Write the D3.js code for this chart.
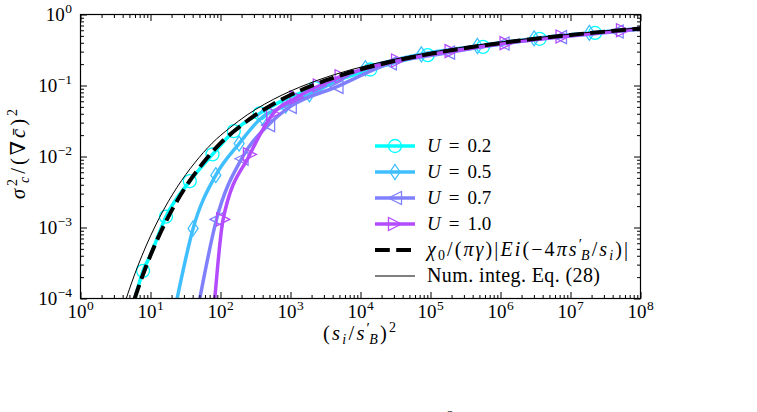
<!DOCTYPE html>
<html>
<head>
<meta charset="utf-8">
<script src="https://cdn.jsdelivr.net/npm/d3@7"></script>
<style>
  body { margin: 0; background: #fff; }
  svg { display: block; font-family: "Liberation Serif", "DejaVu Serif", serif; }
</style>
</head>
<body>
<svg id="chart" width="757" height="412"></svg>
<script>
// axis limits and tick labels
const xMajor = [1e0, 1e1, 1e2, 1e3, 1e4, 1e5, 1e6, 1e7, 1e8];
const xExp = ['0', '1', '2', '3', '4', '5', '6', '7', '8'];
const yMajor = [1e-4, 1e-3, 1e-2, 1e-1, 1e0];
const yExp = ['\u22124', '\u22123', '\u22122', '\u22121', '0'];

// dashed curve chi0/(pi gamma)|Ei(...)|
const eiX = [5.9, 6.3, 7.94, 10, 17.8, 31.6, 56.2, 100, 178, 316, 562, 1000, 3160, 1e4, 3.16e4, 1e5, 3.16e5, 1e6, 3.16e6, 1e7, 3.16e7, 1e8];
const eiY = [9.8e-5, 1.19e-4, 2.27e-4, 4.06e-4, 1.39e-3, 3.70e-3, 8.08e-3, 0.0154, 0.0252, 0.0385, 0.0546, 0.0735, 0.1178, 0.1684, 0.2228, 0.2795, 0.3376, 0.3964, 0.4558, 0.5153, 0.575, 0.635];

// thin curve: numerical integration
const numX = [4.48, 4.78, 6.02, 7.59, 13.5, 24.0, 42.6, 75.9, 135, 240, 426, 759, 2400, 7590, 2.4e4, 7.59e4, 2.4e5, 7.59e5, 2.4e6, 7.59e6, 2.4e7, 7.59e7, 1e8];
const numY = [9.8e-5, 1.19e-4, 2.27e-4, 4.06e-4, 1.39e-3, 3.70e-3, 8.08e-3, 0.0154, 0.0252, 0.0385, 0.0546, 0.0735, 0.1178, 0.1684, 0.2228, 0.2795, 0.3376, 0.3964, 0.4558, 0.5153, 0.575, 0.635, 0.642];

// U = 0.2
const u02X = [6.0, 7.83, 10, 16.6, 36.4, 76.9, 155, 364, 891, 2240, 13800, 91200, 5.62e5, 3.63e6, 2.24e7, 1e8];
const u02Y = [1.0e-4, 2.45e-4, 4.1e-4, 1.42e-3, 4.5e-3, 0.0107, 0.0228, 0.0405, 0.066, 0.092, 0.168, 0.268, 0.35, 0.455, 0.55, 0.625];
const u02M = [1, 3, 4, 5, 6, 7, 9, 10, 11, 12, 13, 14];

// U = 0.5
const u05X = [24.0, 40.6, 85.7, 184.5, 398, 851, 1862, 11750, 74100, 4.68e5, 3.02e6, 1.86e7, 1e8];
const u05Y = [1e-4, 9.7e-4, 5.46e-3, 0.0152, 0.036, 0.052, 0.075, 0.175, 0.275, 0.36, 0.46, 0.55, 0.64];
const u05M = [1, 2, 3, 4, 5, 6, 7, 8, 9, 10, 11];

// U = 0.7
const u07X = [50.6, 87.7, 200, 479, 977, 4540, 26300, 1.78e5, 1.07e6, 7.08e6, 4.57e7, 1e8];
const u07Y = [1e-4, 1.30e-3, 9.3e-3, 0.0276, 0.050, 0.0955, 0.205, 0.29, 0.39, 0.48, 0.575, 0.62];
const u07M = [1, 2, 3, 4, 5, 6, 7, 8, 9, 10];

// U = 1.0
const u10X = [83, 109, 263, 564, 1220, 2620, 5370, 34400, 2.0e5, 1.22e6, 7.69e6, 5.62e7, 1e8];
const u10Y = [1e-4, 1.30e-3, 0.0107, 0.0403, 0.068, 0.10, 0.135, 0.225, 0.305, 0.395, 0.49, 0.60, 0.64];
const u10M = [1, 2, 3, 4, 5, 6, 7, 8, 9, 10, 11];

const seriesLabels = ['0.2', '0.5', '0.7', '1.0'];
const seriesColors = ['#00ffff', '#40bfff', '#8080ff', '#b44bff'];

let svg = d3.select('#chart');
let padL = 80.5, padR = 640.5, padT = 14.5, padB = 298.5;

let x = d3.scaleLog().domain([1, 1e8]).range([padL, padR]);
let y = d3.scaleLog().domain([1e-4, 1]).range([padB, padT]);

// minor ticks
let xMinor = [], yMinor = [];
for (let e = 0; e < 8; e++) for (let m = 2; m < 10; m++) xMinor.push(m * Math.pow(10, e));
for (let e = -4; e < 0; e++) for (let m = 2; m < 10; m++) yMinor.push(m * Math.pow(10, e));

svg.append('clipPath').attr('id', 'plotClip')
    .append('rect').attr('x', padL).attr('y', padT)
    .attr('width', padR - padL).attr('height', padB - padT);

let plot = svg.append('g').attr('clip-path', 'url(#plotClip)');

let line = d3.line()
    .x(d => x(d[0]))
    .y(d => y(d[1]))
    .curve(d3.curveMonotoneX);

let zip = (a, b) => a.map((v, i) => [v, b[i]]);

// marker shapes
let markerPath = {
    circle: d3.symbol().type(d3.symbolCircle).size(Math.PI * 6.5 * 6.5)(),
    diamond: 'M0,-7.5L5,0L0,7.5L-5,0Z',
    left: 'M-6.5,0L6.5,-6.5L6.5,6.5Z',
    right: 'M6.5,0L-6.5,-6.5L-6.5,6.5Z'
};
let seriesShapes = ['circle', 'diamond', 'left', 'right'];

let seriesData = [
    {xs: u02X, ys: u02Y, ms: u02M},
    {xs: u05X, ys: u05Y, ms: u05M},
    {xs: u07X, ys: u07Y, ms: u07M},
    {xs: u10X, ys: u10Y, ms: u10M}
];

seriesData.forEach((s, i) => {
    let pts = zip(s.xs, s.ys);
    plot.append('path')
        .attr('d', line(pts))
        .attr('fill', 'none')
        .attr('stroke', seriesColors[i])
        .attr('stroke-width', 3.5);
    plot.selectAll('path.mk' + i)
        .data(s.ms.map(k => pts[k]))
        .enter()
        .append('path')
        .attr('class', 'mk' + i)
        .attr('d', markerPath[seriesShapes[i]])
        .attr('transform', d => 'translate(' + x(d[0]) + ',' + y(d[1]) + ')')
        .attr('fill', 'none')
        .attr('stroke', seriesColors[i])
        .attr('stroke-width', 1.3);
});

// Ei curve (dashed) and numerical curve (thin)
plot.append('path')
    .attr('d', line(zip(eiX, eiY)))
    .attr('fill', 'none')
    .attr('stroke', '#000')
    .attr('stroke-width', 4)
    .attr('stroke-dasharray', '14.8,6.4');
plot.append('path')
    .attr('d', line(zip(numX, numY)))
    .attr('fill', 'none')
    .attr('stroke', '#000')
    .attr('stroke-width', 1);

// axes: ticks inward on all four sides
let axG = svg.append('g');
function addAxis(gen, scale, vals, size, tr) {
    axG.append('g')
        .attr('transform', tr)
        .call(gen(scale).tickValues(vals).tickSizeInner(size).tickSizeOuter(0).tickFormat(''))
        .call(g => g.select('.domain').remove())
        .call(g => g.selectAll('line').attr('stroke', '#000').attr('stroke-width', 1));
}
addAxis(d3.axisBottom, x, xMajor, -6.5, 'translate(0,' + padB + ')');
addAxis(d3.axisBottom, x, xMinor, -3.5, 'translate(0,' + padB + ')');
addAxis(d3.axisTop, x, xMajor, -6.5, 'translate(0,' + padT + ')');
addAxis(d3.axisTop, x, xMinor, -3.5, 'translate(0,' + padT + ')');
addAxis(d3.axisLeft, y, yMajor, -6.5, 'translate(' + padL + ',0)');
addAxis(d3.axisLeft, y, yMinor, -3.5, 'translate(' + padL + ',0)');
addAxis(d3.axisRight, y, yMajor, -6.5, 'translate(' + padR + ',0)');
addAxis(d3.axisRight, y, yMinor, -3.5, 'translate(' + padR + ',0)');

axG.append('rect')
    .attr('x', padL).attr('y', padT)
    .attr('width', padR - padL).attr('height', padB - padT)
    .attr('fill', 'none').attr('stroke', '#000').attr('stroke-width', 1.2);

// tick labels 10^k
let xt = svg.append('g').selectAll('text')
    .data(xMajor)
    .enter()
    .append('text')
    .attr('x', d => x(d))
    .attr('y', 318)
    .attr('text-anchor', 'middle')
    .attr('font-size', 19);
xt.append('tspan').text('10');
xt.append('tspan').attr('dy', -8).attr('dx', 0.5).attr('font-size', 13.5).text((d, i) => xExp[i]);

let yt = svg.append('g').selectAll('text')
    .data(yMajor)
    .enter()
    .append('text')
    .attr('x', 72)
    .attr('y', d => y(d) + 6.5)
    .attr('text-anchor', 'end')
    .attr('font-size', 19);
yt.append('tspan').text('10');
yt.append('tspan').attr('dy', -8).attr('dx', 0.5).attr('font-size', 13.5).text((d, i) => yExp[i]);

// axis labels
let xl = svg.append('text')
    .attr('x', 323).attr('y', 340)
    .attr('textLength', 73).attr('lengthAdjust', 'spacing')
    .attr('font-size', 20.5);
xl.append('tspan').text('(');
xl.append('tspan').attr('font-style', 'italic').text('s');
xl.append('tspan').attr('font-style', 'italic').attr('font-size', 14).attr('dy', 4).text('i');
xl.append('tspan').attr('dy', -4).text('/');
xl.append('tspan').attr('font-style', 'italic').text('s');
xl.append('tspan').attr('font-size', 15).attr('dy', -7).text('\u2032');
xl.append('tspan').attr('font-style', 'italic').attr('font-size', 14).attr('dy', 11).attr('dx', -3).text('B');
xl.append('tspan').attr('dy', -4).text(')');
xl.append('tspan').attr('font-size', 14).attr('dy', -8).text('2');

let yl = svg.append('text')
    .attr('transform', 'translate(25,199) rotate(-90)')
    .attr('textLength', 90).attr('lengthAdjust', 'spacing')
    .attr('font-size', 20.5);
yl.append('tspan').attr('font-style', 'italic').text('\u03c3');
yl.append('tspan').attr('font-size', 14).attr('dy', -8).text('2');
yl.append('tspan').attr('font-style', 'italic').attr('font-size', 14).attr('dy', 12).attr('dx', -7).text('c');
yl.append('tspan').attr('dy', -4).text('/(\u2207');
yl.append('tspan').attr('font-style', 'italic').text('c\u0304');
yl.append('tspan').text(')');
yl.append('tspan').attr('font-size', 14).attr('dy', -8).text('2');

// legend
let legY = [146, 172, 198, 224, 250, 276];
let lg = svg.append('g');
seriesLabels.forEach((lab, i) => {
    lg.append('line')
        .attr('x1', 375).attr('x2', 415)
        .attr('y1', legY[i]).attr('y2', legY[i])
        .attr('stroke', seriesColors[i]).attr('stroke-width', 3.5);
    lg.append('path')
        .attr('d', markerPath[seriesShapes[i]])
        .attr('transform', 'translate(395,' + legY[i] + ')')
        .attr('fill', 'none').attr('stroke', seriesColors[i]).attr('stroke-width', 1.3);
    let t = lg.append('text').attr('x', 427).attr('y', legY[i] + 6).attr('font-size', 19);
    t.append('tspan').attr('font-style', 'italic').text('U');
    t.append('tspan').attr('dx', 8).text('=');
    t.append('tspan').attr('dx', 8).text(lab);
});
lg.append('line')
    .attr('x1', 375).attr('x2', 415).attr('y1', legY[4]).attr('y2', legY[4])
    .attr('stroke', '#000').attr('stroke-width', 4).attr('stroke-dasharray', '14.8,6.4');
lg.append('line')
    .attr('x1', 375).attr('x2', 415).attr('y1', legY[5]).attr('y2', legY[5])
    .attr('stroke', '#000').attr('stroke-width', 1);

let t5 = lg.append('text').attr('x', 427).attr('y', legY[4] + 6).attr('font-size', 20)
    .attr('textLength', 201).attr('lengthAdjust', 'spacing');
t5.append('tspan').attr('font-style', 'italic').text('\u03c7');
t5.append('tspan').attr('font-size', 14).attr('dy', 4).text('0');
t5.append('tspan').attr('dy', -4).text('/(');
t5.append('tspan').attr('font-style', 'italic').text('\u03c0\u03b3');
t5.append('tspan').text(')|');
t5.append('tspan').attr('font-style', 'italic').text('Ei');
t5.append('tspan').text('(\u22124');
t5.append('tspan').attr('font-style', 'italic').text('\u03c0s');
t5.append('tspan').attr('font-size', 15).attr('dy', -7).text('\u2032');
t5.append('tspan').attr('font-style', 'italic').attr('font-size', 14).attr('dy', 11).attr('dx', -3).text('B');
t5.append('tspan').attr('dy', -4).text('/');
t5.append('tspan').attr('font-style', 'italic').text('s');
t5.append('tspan').attr('font-style', 'italic').attr('font-size', 14).attr('dy', 4).text('i');
t5.append('tspan').attr('dy', -4).text(')|');

lg.append('text').attr('x', 427).attr('y', legY[5] + 6).attr('font-size', 20)
    .attr('textLength', 173).attr('lengthAdjust', 'spacing')
    .text('Num. integ. Eq. (28)');

// cut-off fragment of the caption below
svg.append('text').attr('x', 447).attr('y', 419).attr('font-size', 13).text('2');
</script>
</body>
</html>
